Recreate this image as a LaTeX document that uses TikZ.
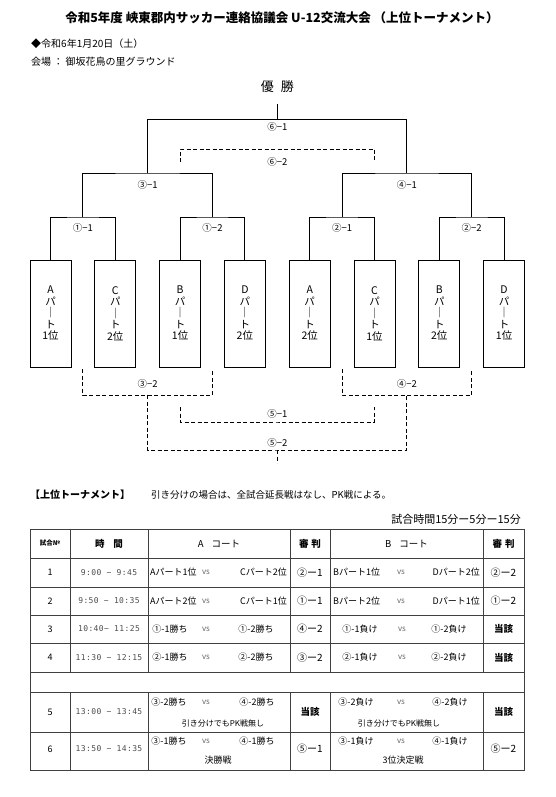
\documentclass[tikz,border=0pt]{standalone}
\usepackage{fontspec}
\setmainfont{Noto Sans CJK JP}
\newfontfamily\timefont{DejaVu Sans Mono}[LetterSpace=5]
\usetikzlibrary{positioning, calc}

\begin{document}
\begin{tikzpicture}[
    x=1pt, y=-1pt,
    part/.style={rectangle, draw, line width=1pt, minimum width=41pt, minimum height=107pt, inner sep=0pt, align=center, font=\fontsize{10.5}{11.5}\selectfont},
    win/.style={line width=1pt},
    lose/.style={line width=1pt, dash pattern=on 4pt off 2.5pt},
    tag/.style={inner sep=1pt, font=\fontsize{9.5}{11}\selectfont},
    grid/.style={line width=0.8pt, black!75},
    cell/.style={inner sep=1pt, font=\fontsize{9}{11}\selectfont},
    head/.style={inner sep=1pt, font=\bfseries\fontsize{9.5}{11}\selectfont},
    clock/.style={inner sep=1pt, text=black!70, font=\timefont\fontsize{8}{10}\selectfont},
    versus/.style={inner sep=1pt, text=black!60, font=\fontsize{8}{9}\selectfont},
    note/.style={inner sep=1pt, font=\fontsize{8}{10}\selectfont}
]

\useasboundingbox (0,0) rectangle (556,797);

% Heading
\node[font=\bfseries\fontsize{12.5}{14}\selectfont] (Title) at (282,18) {令和5年度 峡東郡内サッカー連絡協議会 U-12交流大会 （上位トーナメント）};
\node[tag, anchor=west, font=\fontsize{10}{12}\selectfont] (Date) at (30,44) {◆令和6年1月20日（土）};
\node[tag, anchor=west, font=\fontsize{10}{12}\selectfont] (Place) at (30,62) {会場 ： 御坂花鳥の里グラウンド};
\node[font=\fontsize{13}{14}\selectfont] (Champ) at (277.3,87) {優\hspace{7pt}勝};

% Parts
\node[part] (PartA1) at (50.5,313.5) {A\\パ\\｜\\ト\\1位};
\node[part] (PartC2) at (115.3,313.5) {C\\パ\\｜\\ト\\2位};
\node[part] (PartB1) at (180.1,313.5) {B\\パ\\｜\\ト\\1位};
\node[part] (PartD2) at (244.9,313.5) {D\\パ\\｜\\ト\\2位};
\node[part] (PartA2) at (309.7,313.5) {A\\パ\\｜\\ト\\2位};
\node[part] (PartC1) at (374.5,313.5) {C\\パ\\｜\\ト\\1位};
\node[part] (PartB2) at (439.3,313.5) {B\\パ\\｜\\ト\\2位};
\node[part] (PartD1) at (504.1,313.5) {D\\パ\\｜\\ト\\1位};

% Junctions
\coordinate (J11) at (82.9,217);
\coordinate (J12) at (212.5,217);
\coordinate (J21) at (342.1,217);
\coordinate (J22) at (471.7,217);
\coordinate (J31) at (147.7,173);
\coordinate (J41) at (406.9,173);
\coordinate (J61) at (277.3,119.3);

% Winners
\draw[win] (PartA1.north) |- (J11) -| (PartC2.north);
\draw[win] (PartB1.north) |- (J12) -| (PartD2.north);
\draw[win] (PartA2.north) |- (J21) -| (PartC1.north);
\draw[win] (PartB2.north) |- (J22) -| (PartD1.north);
\draw[win] (J11) |- (J31) -| (J12);
\draw[win] (J21) |- (J41) -| (J22);
\draw[win] (J31) |- (J61) -| (J41);
\draw[win, shorten >=7pt] (J61) -- (Champ.south);

% Losers
\coordinate (L62L) at (180.1,162);
\coordinate (L62R) at (374.5,162);
\coordinate (L62) at (277.3,149);
\coordinate (L32a) at (82.9,369);
\coordinate (L32b) at (212.5,369);
\coordinate (L32) at (147.7,395);
\coordinate (L42a) at (342.1,369);
\coordinate (L42b) at (471.7,369);
\coordinate (L42) at (406.9,395);
\coordinate (L51a) at (180.1,407);
\coordinate (L51b) at (374.5,407);
\coordinate (L51) at (277.3,422);
\coordinate (L52) at (277.3,450);
\coordinate (L52end) at (277.3,463);

\draw[lose] (L62L) |- (L62) -| (L62R);
\draw[lose] (L32a) |- (L32) -| (L32b);
\draw[lose] (L42a) |- (L42) -| (L42b);
\draw[lose] (L51a) |- (L51) -| (L51b);
\draw[lose] (L32) |- (L52) -| (L42);
\draw[lose] (L52) -- (L52end);

% Match labels
\node[tag] (M61) at (277.3,127) {⑥−1};
\node[tag] (M62) at (277.3,162) {⑥−2};
\node[tag] (M31) at (147.7,185) {③−1};
\node[tag] (M41) at (406.9,185) {④−1};
\node[tag] (M11) at (82.9,228) {①−1};
\node[tag] (M12) at (212.5,228) {①−2};
\node[tag] (M21) at (342.1,228) {②−1};
\node[tag] (M22) at (471.7,228) {②−2};
\node[tag] (M32) at (147.7,384) {③−2};
\node[tag] (M42) at (406.9,384) {④−2};
\node[tag] (M51) at (277.3,414) {⑤−1};
\node[tag] (M52) at (277.3,443) {⑤−2};

% Notes
\node[tag, anchor=west, font=\bfseries\fontsize{10}{12}\selectfont] (Sec) at (29,495) {【上位トーナメント】};
\node[tag, anchor=west] (Rule) at (150,495) {引き分けの場合は、全試合延長戦はなし、PK戦による。};
\node[tag, anchor=east, font=\fontsize{11}{12}\selectfont] (Length) at (522,519) {試合時間15分ー5分ー15分};

% Table grid
\draw[grid] (30,529) rectangle (524,770);
\foreach \y in {558,587,615,643,672,692,732}
  \draw[grid] (30,\y) -- (524,\y);
\foreach \x in {70,148,290,330,483} {
  \draw[grid] (\x,529) -- (\x,672);
  \draw[grid] (\x,692) -- (\x,770);
}

% Header
\node[head, font=\bfseries\fontsize{6.5}{8}\selectfont] (HNo) at (50,543.5) {試合№};
\node[head] (HTime) at (109,543.5) {時\hspace{9pt}間};
\node[head, font=\fontsize{9.5}{11}\selectfont] (HA) at (219,543.5) {A\hspace{8pt}コート};
\node[head] (HRefA) at (310,543.5) {審\hspace{3pt}判};
\node[head, font=\fontsize{9.5}{11}\selectfont] (HB) at (406.5,543.5) {B\hspace{8pt}コート};
\node[head] (HRefB) at (503.5,543.5) {審\hspace{3pt}判};

% Match 1
\node[cell] (No1) at (50,572.5) {1};
\node[clock] (T1) at (109,572.5) {9:00 \textasciitilde{}  9:45};
\node[cell, anchor=west] (A1l) at (149,572.5) {Aパート1位};
\node[versus] (A1v) at (206,572.5) {vs};
\node[cell, anchor=east] (A1r) at (288,572.5) {Cパート2位};
\node[cell, font=\fontsize{10}{11}\selectfont] (R1a) at (310,572.5) {②ー1};
\node[cell, anchor=west] (B1l) at (332,572.5) {Bパート1位};
\node[versus] (B1v) at (401,572.5) {vs};
\node[cell, anchor=east] (B1r) at (481,572.5) {Dパート2位};
\node[cell, font=\fontsize{10}{11}\selectfont] (R1b) at (503.5,572.5) {②ー2};

% Match 2
\node[cell] (No2) at (50,601) {2};
\node[clock] (T2) at (109,601) {9:50 \textasciitilde{} 10:35};
\node[cell, anchor=west] (A2l) at (149,601) {Aパート2位};
\node[versus] (A2v) at (206,601) {vs};
\node[cell, anchor=east] (A2r) at (288,601) {Cパート1位};
\node[cell, font=\fontsize{10}{11}\selectfont] (R2a) at (310,601) {①ー1};
\node[cell, anchor=west] (B2l) at (332,601) {Bパート2位};
\node[versus] (B2v) at (401,601) {vs};
\node[cell, anchor=east] (B2r) at (481,601) {Dパート1位};
\node[cell, font=\fontsize{10}{11}\selectfont] (R2b) at (503.5,601) {①ー2};

% Match 3
\node[cell] (No3) at (50,629) {3};
\node[clock] (T3) at (109,629) {10:40\textasciitilde{} 11:25};
\node[cell] (A3l) at (170,629) {①-1勝ち};
\node[versus] (A3v) at (206,629) {vs};
\node[cell] (A3r) at (256,629) {①-2勝ち};
\node[cell, font=\fontsize{10}{11}\selectfont] (R3a) at (310,629) {④ー2};
\node[cell] (B3l) at (360,629) {①-1負け};
\node[versus] (B3v) at (402,629) {vs};
\node[cell] (B3r) at (449,629) {①-2負け};
\node[cell, font=\bfseries\fontsize{9.5}{11}\selectfont] (R3b) at (503.5,629) {当該};

% Match 4
\node[cell] (No4) at (50,657.5) {4};
\node[clock] (T4) at (109,657.5) {11:30 \textasciitilde{} 12:15};
\node[cell] (A4l) at (170,657.5) {②-1勝ち};
\node[versus] (A4v) at (206,657.5) {vs};
\node[cell] (A4r) at (256,657.5) {②-2勝ち};
\node[cell, font=\fontsize{10}{11}\selectfont] (R4a) at (310,657.5) {③ー2};
\node[cell] (B4l) at (360,657.5) {②-1負け};
\node[versus] (B4v) at (402,657.5) {vs};
\node[cell] (B4r) at (449,657.5) {②-2負け};
\node[cell, font=\bfseries\fontsize{9.5}{11}\selectfont] (R4b) at (503.5,657.5) {当該};

% Match 5
\node[cell] (No5) at (50,712) {5};
\node[clock] (T5) at (109,712) {13:00 \textasciitilde{} 13:45};
\node[cell] (A5l) at (169,702) {③-2勝ち};
\node[versus] (A5v) at (206,702) {vs};
\node[cell] (A5r) at (257,702) {④-2勝ち};
\node[note] (A5n) at (223,723) {引き分けでもPK戦無し};
\node[cell, font=\bfseries\fontsize{9.5}{11}\selectfont] (R5a) at (310,712) {当該};
\node[cell] (B5l) at (356,702) {③-2負け};
\node[versus] (B5v) at (401,702) {vs};
\node[cell] (B5r) at (450,702) {④-2負け};
\node[note] (B5n) at (399,723) {引き分けでもPK戦無し};
\node[cell, font=\bfseries\fontsize{9.5}{11}\selectfont] (R5b) at (503.5,712) {当該};

% Match 6
\node[cell] (No6) at (50,749) {6};
\node[clock] (T6) at (109,749) {13:50 \textasciitilde{} 14:35};
\node[cell] (A6l) at (169,741) {③-1勝ち};
\node[versus] (A6v) at (206,741) {vs};
\node[cell] (A6r) at (257,741) {④-1勝ち};
\node[cell] (A6n) at (218,760) {決勝戦};
\node[cell, font=\fontsize{10}{11}\selectfont] (R6a) at (310,749) {⑤ー1};
\node[cell] (B6l) at (356,741) {③-1負け};
\node[versus] (B6v) at (401,741) {vs};
\node[cell] (B6r) at (450,741) {④-1負け};
\node[cell] (B6n) at (403,760) {3位決定戦};
\node[cell, font=\fontsize{10}{11}\selectfont] (R6b) at (503.5,749) {⑤ー2};

\end{tikzpicture}
\end{document}
